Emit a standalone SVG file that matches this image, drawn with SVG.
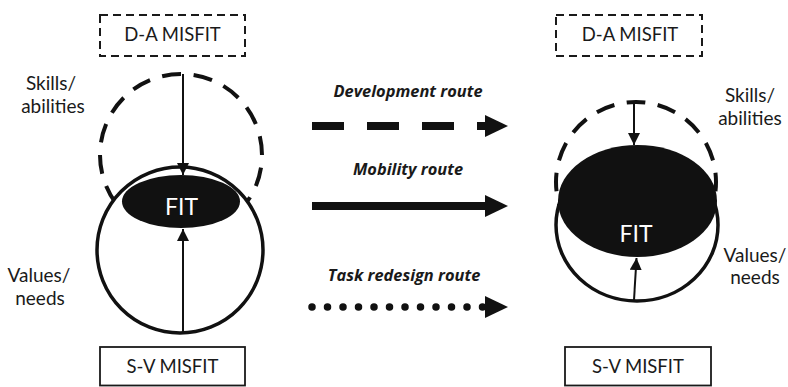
<svg xmlns="http://www.w3.org/2000/svg" width="788" height="387" viewBox="0 0 788 387">
  <defs>
    <marker id="tip" viewBox="0 0 10 10" refX="10" refY="5" markerWidth="6" markerHeight="6" orient="auto" markerUnits="strokeWidth">
      <path d="M0,0 L10,5 L0,10 Z" fill="#111"/>
    </marker>
    <style>
      .lbl { font-family: Lato, "Open Sans", "Liberation Sans", sans-serif; font-size: 19px; fill: #1a1a1a; text-anchor: middle; }
      .box-lbl { font-family: Lato, "Open Sans", "Liberation Sans", sans-serif; font-size: 18.5px; fill: #1a1a1a; text-anchor: middle; }
      .route { font-family: "Open Sans", "Liberation Sans", sans-serif; font-size: 16.4px; font-weight: bold; font-style: italic; fill: #1a1a1a; text-anchor: middle; }
      .fit { font-family: Lato, "Open Sans", "Liberation Sans", sans-serif; font-size: 23px; fill: #fff; text-anchor: middle; }
      .dashbox { fill: none; stroke: #1a1a1a; stroke-width: 2; stroke-dasharray: 8 5; }
      .solidbox { fill: #fff; stroke: #1a1a1a; stroke-width: 1.8; }
      .ability { fill: none; stroke: #111; stroke-width: 4; stroke-dasharray: 6 4; }
      .values { fill: #fff; stroke: #111; stroke-width: 3.5; }
      .fitshape { fill: #111; }
      .thin { stroke: #111; stroke-width: 2; fill: none; marker-end: url(#tip); }
      .thick { stroke: #111; stroke-width: 8; fill: none; }
      .head { fill: #111; }
    </style>
  </defs>

  <!-- Left state: partial fit -->
  <g id="left-da-misfit">
    <rect class="dashbox" x="100" y="15" width="145" height="41"/>
    <text class="box-lbl" x="172.5" y="41">D-A MISFIT</text>
  </g>
  <g id="left-skills-label">
    <text class="lbl" x="51" y="90">Skills/</text>
    <text class="lbl" x="53" y="113">abilities</text>
  </g>
  <g id="left-values-label">
    <text class="lbl" x="39" y="282">Values/</text>
    <text class="lbl" x="40" y="305">needs</text>
  </g>
  <g id="left-abilities-circle">
    <circle class="ability" cx="181" cy="155" r="81" pathLength="160" stroke-dashoffset="6"/>
  </g>
  <g id="left-values-circle">
    <circle class="values" cx="180" cy="250" r="83"/>
  </g>
  <g id="left-fit">
    <ellipse class="fitshape" cx="181" cy="201.5" rx="59" ry="26.5"/>
    <text class="fit" x="181.5" y="215">FIT</text>
  </g>
  <g id="left-sv-misfit">
    <rect class="solidbox" x="100" y="347" width="145" height="38.5"/>
    <text class="box-lbl" x="172.5" y="373">S-V MISFIT</text>
  </g>

  <!-- Right state: larger fit -->
  <g id="right-da-misfit">
    <rect class="dashbox" x="556" y="15" width="146" height="41"/>
    <text class="box-lbl" x="630" y="41">D-A MISFIT</text>
  </g>
  <g id="right-skills-label">
    <text class="lbl" x="750" y="102">Skills/</text>
    <text class="lbl" x="750" y="125">abilities</text>
  </g>
  <g id="right-values-label">
    <text class="lbl" x="755" y="262">Values/</text>
    <text class="lbl" x="755" y="284">needs</text>
  </g>
  <g id="right-abilities-circle">
    <circle class="ability" cx="636" cy="182" r="80" pathLength="160" stroke-dashoffset="3"/>
  </g>
  <g id="right-values-circle">
    <ellipse class="values" cx="637" cy="225" rx="81" ry="76"/>
  </g>
  <g id="right-fit">
    <ellipse class="fitshape" cx="637.5" cy="201" rx="79.5" ry="56"/>
    <text class="fit" x="636" y="242">FIT</text>
  </g>
  <g id="right-sv-misfit">
    <rect class="solidbox" x="565" y="347" width="146" height="38.5"/>
    <text class="box-lbl" x="638" y="373">S-V MISFIT</text>
  </g>

  <!-- Route labels -->
  <g id="development-route-label">
    <text class="route" x="408" y="97">Development route</text>
  </g>
  <g id="mobility-route-label">
    <text class="route" x="408" y="175">Mobility route</text>
  </g>
  <g id="task-redesign-route-label">
    <text class="route" x="404" y="281">Task redesign route</text>
  </g>

  <!-- Connectors -->
  <g id="connectors">
    <line class="thin" x1="183" y1="74" x2="183" y2="175"/>
    <line class="thin" x1="183" y1="333" x2="183" y2="229"/>
    <line class="thin" x1="634" y1="103" x2="634" y2="145"/>
    <line class="thin" x1="634" y1="300" x2="636.5" y2="258"/>

    <line class="thick" x1="312" y1="126" x2="487" y2="126" stroke-dasharray="32 23"/>
    <polygon class="head" points="485,115 508,126 485,137"/>

    <line class="thick" x1="312" y1="206" x2="487" y2="206"/>
    <polygon class="head" points="485,195 508,206 485,217"/>

    <line x1="312" y1="307" x2="483" y2="307" stroke="#111" stroke-width="7.5" stroke-linecap="round" stroke-dasharray="0 15.5"/>
    <polygon class="head" points="485,296 508,307 485,318"/>
  </g>
</svg>
